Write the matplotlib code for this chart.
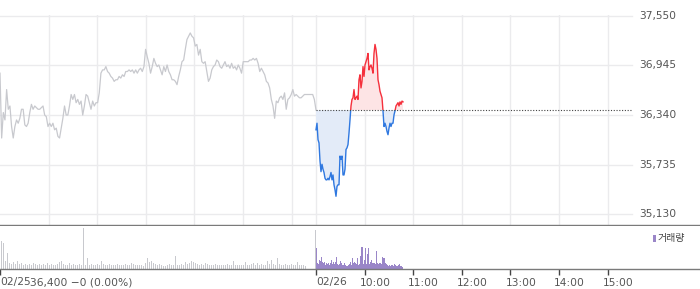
import matplotlib
matplotlib.use("Agg")
import matplotlib.pyplot as plt
from matplotlib.patches import Rectangle
from matplotlib.transforms import blended_transform_factory
import numpy as np

# ---------------- data ----------------
prev_close = 36400
price_ticks = [35130, 35735, 36340, 36945, 37550]
price_tick_labels = ["35,130", "35,735", "36,340", "36,945", "37,550"]

# previous day (02/25) minute prices, 09:00-15:30
prev_prices = [
    36850, 36060, 36370, 36280, 36650, 36410, 36450, 36200, 36060, 36200,
    36280, 36240, 36300, 36410, 36410, 36220, 36200, 36240, 36370, 36470,
    36410, 36450, 36430, 36410, 36410, 36430, 36450, 36340, 36320, 36200,
    36240, 36200, 36240, 36160, 36180, 36080, 36060, 36180, 36300, 36450,
    36340, 36340, 36450, 36590, 36530, 36590, 36490, 36530, 36470, 36510,
    36340, 36450, 36590, 36570, 36490, 36410, 36510, 36450, 36490, 36490,
    36610, 36850, 36890, 36890, 36930, 36870, 36850, 36810, 36790, 36750,
    36770, 36770, 36810, 36790, 36830, 36810, 36870, 36870, 36890, 36870,
    36890, 36850, 36890, 36850, 36890, 36910, 36870, 36930, 37140, 37050,
    36970, 36850, 36930, 37030, 36970, 36930, 36950, 36890, 36830, 36930,
    36870, 36950, 36870, 36830, 36770, 36770, 36750, 36710, 36810, 36890,
    36990, 37010, 37140, 37260, 37300, 37340, 37300, 37280, 37180, 37200,
    37070, 37140, 36990, 36970, 36990, 36870, 36750, 36790, 36890, 36930,
    36950, 37010, 36990, 36930, 36910, 36950, 36990, 36930, 36950, 36910,
    36970, 36910, 36930, 36890, 36950, 36910, 36850, 36990, 36990, 36990,
    36990, 37010, 37010, 37030, 37010, 37030, 36970, 36870, 36910, 36870,
    36830, 36750, 36730, 36670, 36530, 36450, 36300, 36510, 36490, 36550,
    36570, 36530, 36610, 36410, 36530, 36550, 36590, 36650, 36570, 36590,
    36570, 36550, 36550, 36570, 36590, 36590, 36590, 36590, 36590, 36590,
    36530, 36400,
]

# today (02/26) minute prices from 09:00
today_prices = [
    36160, 36240, 36040, 36000, 35780, 35650, 35740, 35680, 35640, 35570,
    35550, 35550, 35570, 35550, 35590, 35640, 35550, 35610, 35490, 35430,
    35350, 35470, 35490, 35490, 35840, 35800, 35840, 35610, 35610, 35680,
    35920, 35940, 35980, 36120, 36280, 36450, 36530, 36550, 36650, 36530,
    36550, 36570, 36530, 36770, 36830, 36670, 36750, 36930, 36810, 36950,
    36990, 37030, 37090, 36890, 36930, 36950, 36910, 36850, 37090, 37200,
    37140, 37030, 36770, 36710, 36630, 36590, 36550, 36390, 36200, 36240,
    36200, 36140, 36100, 36180, 36240, 36200, 36240, 36240, 36340, 36390,
    36450, 36470, 36490, 36450, 36500, 36470, 36510, 36500,
]

prev_volume = [
    25, 23, 7, 14, 5, 4, 6, 4, 7, 4, 5, 3, 4, 3, 4, 3, 5, 4, 3, 4,
    3, 4, 3, 5, 3, 4, 3, 3, 4, 6, 7, 4, 3, 3, 5, 3, 4, 3, 3, 4,
    3, 36, 3, 9, 3, 4, 3, 3, 4, 3, 7, 4, 3, 3, 4, 3, 3, 3, 4, 3,
    3, 3, 4, 3, 3, 5, 4, 3, 3, 3, 3, 2, 5, 9, 6, 7, 5, 4, 3, 4,
    3, 2, 2, 3, 4, 3, 3, 11, 3, 3, 4, 3, 6, 4, 5, 7, 6, 5, 4, 3,
    4, 3, 5, 4, 3, 3, 3, 4, 3, 3, 3, 3, 3, 4, 3, 3, 7, 3, 3, 3,
    3, 3, 6, 3, 3, 4, 5, 3, 5, 3, 4, 3, 3, 7, 4, 8, 4, 3, 9, 4,
    3, 3, 4, 3, 3, 4, 3, 3, 6, 3, 3, 3, 2, 0, 0, 0, 0, 34,
]

today_volume = [
    18, 5, 4, 8, 7, 10, 6, 5, 6, 3, 5, 4, 5, 3, 5, 8, 4, 6, 4, 6,
    10, 4, 3, 4, 7, 5, 3, 3, 5, 3, 2, 2, 3, 4, 6, 3, 9, 5, 6, 5,
    4, 9, 3, 4, 11, 19, 19, 4, 8, 18, 4, 13, 18, 4, 6, 8, 5, 5, 5, 4,
    16, 5, 4, 5, 5, 4, 10, 9, 9, 5, 4, 3, 2, 3, 2, 3, 3, 2, 4, 3,
    2, 2, 3, 4, 2, 2, 1,
]

hour_labels = ["10:00", "11:00", "12:00", "13:00", "14:00", "15:00"]
day_labels = ["02/25", "02/26"]
info_text = "36,400 \u22120 (0.00%)"
legend_label = "거래량"

# ---------------- layout ----------------
W, H = 700, 289
PLOT_W = 632                      # width of price area in px
TOTAL_MIN = 780                   # two sessions of 390 minutes
MIN_PER_PX = TOTAL_MIN / PLOT_W
XMAX = W * MIN_PER_PX
DAY = 390

prev_x = np.linspace(0, DAY, len(prev_prices))
today_x = DAY + np.arange(len(today_prices)) * MIN_PER_PX
prev_vx = np.arange(len(prev_volume)) * (DAY / len(prev_volume)) + 1.5
today_vx = DAY + np.arange(len(today_volume)) * MIN_PER_PX

C_GRID = "#ebebed"
C_PREV = "#c8c9ce"
C_RED = "#f5303c"
C_RED_F = "#fde4e5"
C_BLUE = "#2f78e0"
C_BLUE_F = "#e3ebf8"
C_PURPLE = "#9a86c8"
C_TXT = "#555555"
C_AXIS = "#7a7a7a"

fig = plt.figure(figsize=(W / 100, H / 100), dpi=100)
fig.patch.set_facecolor("white")

ax = fig.add_axes([0, 1 - 225 / H, 1, (225 - 15.3) / H])
axv = fig.add_axes([0, 1 - 268.5 / H, 1, (268.5 - 226) / H])

# ---------- price axes ----------
ax.set_xlim(0, XMAX)
ax.set_ylim(35000, 37555)
for s in ["top", "left", "right"]:
    ax.spines[s].set_visible(False)
ax.spines["bottom"].set_color(C_AXIS)
ax.spines["bottom"].set_linewidth(1.0)
ax.set_xticks([])
ax.set_yticks([])

xend = PLOT_W * MIN_PER_PX
for p in price_ticks:
    ax.plot([0, xend], [p, p], color=C_GRID, lw=1.0, zorder=0)
vgrid = list(range(60, DAY, 60)) + [DAY] + list(range(DAY + 60, TOTAL_MIN, 60))
for vx in vgrid:
    ax.axvline(vx, color=C_GRID, lw=1.0, zorder=0)

ytrans = blended_transform_factory(ax.transAxes, ax.transData)
for p, lab in zip(price_ticks, price_tick_labels):
    ax.text(639 / W, p, lab, transform=ytrans, ha="left", va="center",
            fontsize=7.7, color=C_TXT)

# previous day
ax.plot(prev_x, prev_prices, color=C_PREV, lw=0.9, zorder=2)

# today
tp = np.array(today_prices, dtype=float)
ax.fill_between(today_x, tp, prev_close, where=tp >= prev_close,
                interpolate=True, color=C_RED_F, lw=0, zorder=1)
ax.fill_between(today_x, tp, prev_close, where=tp <= prev_close,
                interpolate=True, color=C_BLUE_F, lw=0, zorder=1)
lr, = ax.plot(today_x, tp, color=C_RED, lw=1.0, zorder=3)
lb, = ax.plot(today_x, tp, color=C_BLUE, lw=1.0, zorder=3)
lr.set_clip_path(Rectangle((DAY - 5, prev_close), 1000, 5000, transform=ax.transData))
lb.set_clip_path(Rectangle((DAY - 5, prev_close - 5000), 1000, 5000, transform=ax.transData))

ax.plot([DAY, xend], [prev_close, prev_close], color="#444444", lw=0.8,
        ls=(0, (1, 1.5)), zorder=4)

# ---------- volume axes ----------
axv.set_xlim(0, XMAX)
axv.set_ylim(0, 38)
for s in ["top", "left", "right"]:
    axv.spines[s].set_visible(False)
axv.spines["bottom"].set_color(C_AXIS)
axv.spines["bottom"].set_linewidth(1.0)
axv.set_yticks([])
axv.bar(prev_vx, prev_volume, width=1.3, color=C_PREV, lw=0)
axv.bar(today_vx, today_volume, width=1.0, color=C_PURPLE, lw=0, align="edge")

tick_pos = [0, DAY] + [DAY + 60 * (i + 1) for i in range(len(hour_labels))]
axv.set_xticks(tick_pos)
axv.set_xticklabels([])
axv.tick_params(axis="x", direction="out", length=4, width=1, color="#444444")

xtrans = blended_transform_factory(axv.transData, fig.transFigure)
ylab = 1 - 282.5 / H
axv.text(0, ylab, day_labels[0], transform=xtrans, ha="left", va="center",
         fontsize=7.7, color=C_TXT)
axv.text(30 * MIN_PER_PX, ylab, info_text, transform=xtrans, ha="left",
         va="center", fontsize=7.7, color=C_TXT)
axv.text(DAY, ylab, day_labels[1], transform=xtrans, ha="left", va="center",
         fontsize=7.7, color=C_TXT)
for i, lab in enumerate(hour_labels):
    axv.text(DAY + 60 * (i + 1) - 5 * MIN_PER_PX, ylab, lab, transform=xtrans,
             ha="left", va="center", fontsize=7.7, color=C_TXT)

# legend
fig.add_artist(Rectangle((652.5 / W, 1 - 242 / H), 3 / W, 7.5 / H,
                         transform=fig.transFigure, color=C_PURPLE, lw=0))
fig.text(657.5 / W, 1 - 238.5 / H, legend_label, ha="left", va="center",
         fontsize=7.2, color="#444444",
         family=["Noto Sans CJK KR", "DejaVu Sans"])

fig.savefig("out.png", dpi=100, facecolor="white")
